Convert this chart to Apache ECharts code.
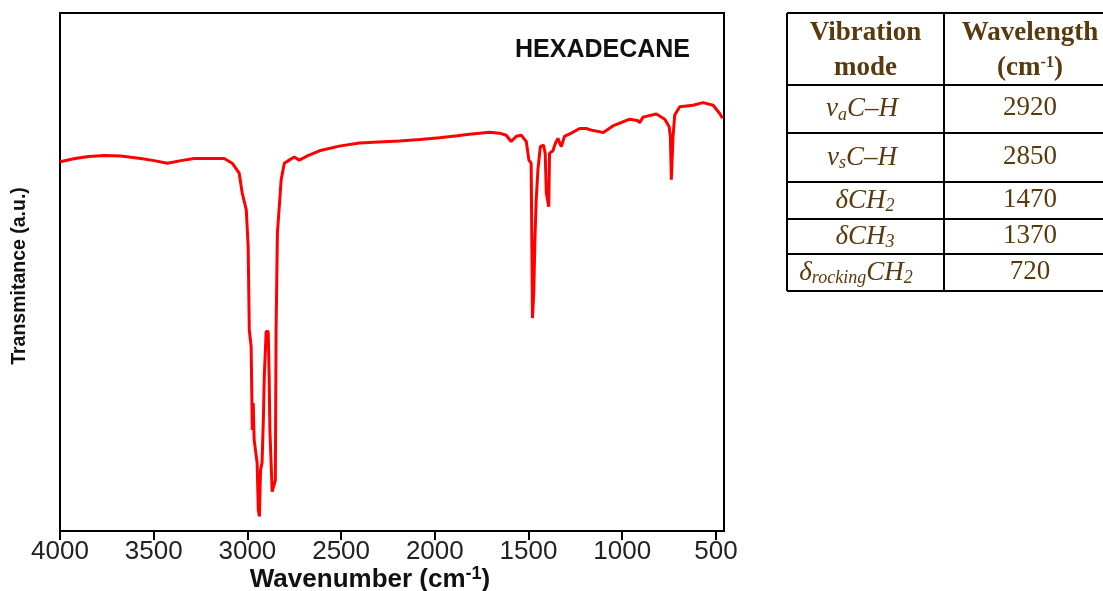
<!DOCTYPE html>
<html><head><meta charset="utf-8">
<script src="https://cdn.jsdelivr.net/npm/echarts@6/dist/echarts.min.js"></script>
<style>html,body{margin:0;padding:0;background:#fff}#c{width:1103px;height:591px}</style>
</head><body><div id="c"></div>
<script>
// ---- spectrum data ----
const wavenumber = [4000, 3920, 3846, 3765, 3676, 3569, 3498, 3427, 3355, 3284, 3200, 3124, 3081, 3044, 3028, 3006, 2996, 2990, 2980, 2974, 2969, 2964, 2948, 2942, 2936, 2930, 2922, 2915, 2910, 2900, 2889, 2884, 2880, 2868, 2851, 2847, 2840, 2830, 2820, 2803, 2777, 2750, 2723, 2686, 2616, 2510, 2403, 2300, 2189, 2080, 1975, 1880, 1815, 1708, 1655, 1619, 1593, 1565, 1539, 1512, 1498, 1486, 1482, 1479, 1472, 1466, 1459, 1450, 1437, 1420, 1411, 1405, 1392, 1388, 1370, 1356, 1343, 1334, 1325, 1308, 1272, 1227, 1192, 1156, 1121, 1103, 1050, 960, 916, 907, 889, 818, 773, 750, 743, 738, 733, 729, 720, 693, 622, 569, 515, 480, 465];
const transmittance = [71.3, 71.9, 72.3, 72.5, 72.4, 71.9, 71.5, 71.0, 71.5, 71.9, 71.9, 71.9, 71.0, 69.1, 65.3, 62.0, 54.9, 38.8, 35.6, 19.5, 24.7, 17.6, 13.1, 4.1, 2.8, 11.8, 13.1, 21.4, 29.8, 38.5, 38.5, 29.8, 19.5, 7.6, 9.8, 38.8, 57.5, 62.6, 67.8, 71.0, 71.6, 72.2, 71.6, 72.3, 73.4, 74.3, 74.9, 75.1, 75.3, 75.6, 75.9, 76.3, 76.6, 77.0, 76.8, 76.4, 75.2, 76.2, 76.4, 75.2, 71.6, 71.0, 54.2, 41.1, 45.9, 56.2, 63.9, 69.7, 74.2, 74.5, 72.9, 65.2, 62.6, 72.9, 73.4, 74.9, 75.8, 74.9, 74.2, 76.2, 76.8, 77.7, 77.7, 77.3, 77.1, 76.9, 78.2, 79.5, 79.2, 78.8, 79.9, 80.5, 79.5, 78.1, 76.1, 67.8, 67.8, 76.1, 80.3, 81.9, 82.2, 82.7, 82.2, 80.6, 79.7];
const xTickLabels = [4000, 3500, 3000, 2500, 2000, 1500, 1000, 500];
const sampleName = 'HEXADECANE';

// ---- table content ----
const tableHeader = ['Vibration\nmode', 'Wavelength\n{b|(cm}{sp|-1}{b|)}'];
const vibrationModes = [
  '{i|ν}{sub|a}{i|C–H}',
  '{i|ν}{sub|s}{i|C–H}',
  '{i|δCH}{sub|2}',
  '{i|δCH}{sub|3}',
  '{i|δ}{sub|rocking}{i|CH}{sub|2}'
];
const wavelengths = ['2920', '2850', '1470', '1370', '720'];

const chart = echarts.init(document.getElementById('c'), null, {renderer: 'canvas'});
const seriesData = wavenumber.map((w, i) => [w, transmittance[i]]);

// table geometry
const tX0 = 787, tX1 = 944, tX2 = 1103;
const rowY = [13, 85, 133, 182, 219, 254, 291];
const brown = '#5a3a0c';
const serif = '"Liberation Serif", "Times New Roman", serif';
const graphics = [];
rowY.forEach(y => graphics.push({type: 'line', shape: {x1: tX0, y1: y, x2: tX2, y2: y}, style: {stroke: '#000', lineWidth: 2}}));
[tX0, tX1].forEach(x => graphics.push({type: 'line', shape: {x1: x, y1: rowY[0], x2: x, y2: rowY[rowY.length - 1]}, style: {stroke: '#000', lineWidth: 2}}));
const c1 = (tX0 + tX1) / 2, c2 = 1030;
const hdrRich = {
  b: {fontFamily: serif, fontWeight: 'bold', fontSize: 27, fill: brown},
  sp: {fontFamily: serif, fontWeight: 'bold', fontSize: 16, fill: brown, padding: [0, 0, 12, 0]}
};
const hdrY = (rowY[0] + rowY[1]) / 2 + 2;
graphics.push({type: 'text', x: c1, y: hdrY, style: {text: tableHeader[0], fill: brown, font: 'bold 27px ' + serif, align: 'center', verticalAlign: 'middle', lineHeight: 35}});
graphics.push({type: 'text', x: c2, y: hdrY, style: {text: tableHeader[1], fill: brown, font: 'bold 27px ' + serif, align: 'center', verticalAlign: 'middle', lineHeight: 35, rich: hdrRich}});
const modeRich = {
  i: {fontFamily: serif, fontStyle: 'italic', fontSize: 27, fill: brown},
  sub: {fontFamily: serif, fontStyle: 'italic', fontSize: 18, fill: brown, padding: [12, 0, 0, 0]}
};
const modeX = [862, 862, 865, 865, 856];
vibrationModes.forEach((m, k) => {
  const cy = (rowY[k + 1] + rowY[k + 2]) / 2;
  graphics.push({type: 'text', x: modeX[k], y: cy, style: {text: m, align: 'center', verticalAlign: 'middle', rich: modeRich, fill: brown, font: 'italic 27px ' + serif}});
  graphics.push({type: 'text', x: c2, y: cy - 1, style: {text: wavelengths[k], align: 'center', verticalAlign: 'middle', fill: brown, font: '27px ' + serif}});
});

const sans = '"Liberation Sans", Arial, sans-serif';
chart.setOption({
  animation: false,
  backgroundColor: '#fff',
  title: {text: sampleName, left: 515, top: 38, padding: 0,
    textStyle: {fontFamily: sans, fontWeight: 'bold', fontSize: 25, color: '#111'}},
  grid: {left: 60, right: 379, top: 13, bottom: 60, show: true, borderColor: '#000', borderWidth: 2,
    backgroundColor: 'transparent', containLabel: false, outerBoundsMode: 'none'},
  xAxis: {
    type: 'value', inverse: true, min: 457, max: 4000,
    name: 'Wavenumber (cm{sp|-1})', nameLocation: 'middle', nameGap: 34, nameMoveOverlap: false,
    nameTextStyle: {fontFamily: sans, fontWeight: 'bold', fontSize: 26, color: '#111', padding: [0, 44, 0, 0],
      rich: {sp: {fontFamily: sans, fontWeight: 'bold', fontSize: 18, color: '#111', padding: [0, 0, 12, 0]}}},
    axisLine: {show: true, lineStyle: {color: '#000', width: 2}},
    axisTick: {show: true, inside: false, length: 9, lineStyle: {color: '#000', width: 2}, customValues: xTickLabels},
    axisLabel: {show: true, margin: 8, fontFamily: sans, fontSize: 26, color: '#222', customValues: xTickLabels,
      formatter: v => String(v)},
    splitLine: {show: false}
  },
  yAxis: {
    type: 'value', min: 0, max: 100,
    name: 'Transmitance (a.u.)', nameLocation: 'middle', nameGap: 30, nameRotate: 90,
    nameTextStyle: {fontFamily: sans, fontWeight: 'bold', fontSize: 19.5, color: '#111', padding: [0, 8, 0, 0]},
    axisLine: {show: true, lineStyle: {color: '#000', width: 2}},
    axisTick: {show: false}, axisLabel: {show: false}, splitLine: {show: false}
  },
  series: [{
    type: 'line', data: seriesData, showSymbol: false, symbol: 'none',
    lineStyle: {color: '#ff0000', width: 3}, clip: true
  }],
  graphic: graphics
});
</script>
</body></html>
